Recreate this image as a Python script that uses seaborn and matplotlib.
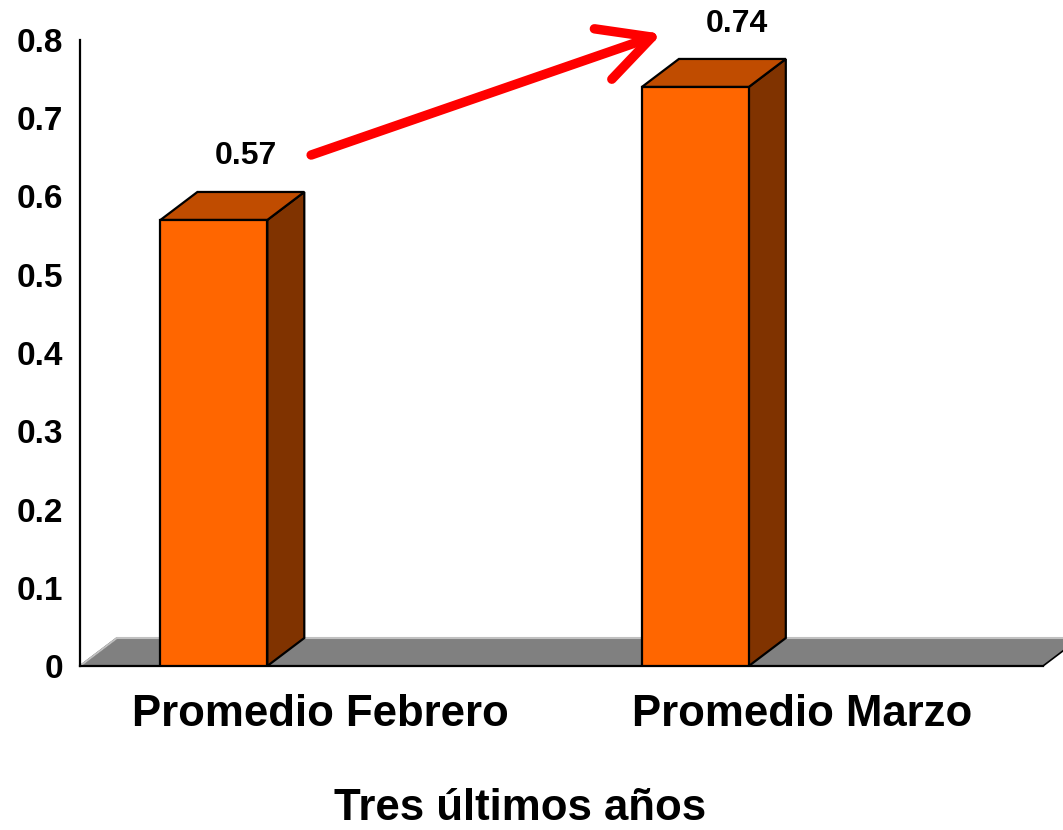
import matplotlib
matplotlib.use("Agg")
import matplotlib.pyplot as plt
import seaborn as sns
import numpy as np
import pandas as pd
from matplotlib.patches import Polygon

# ---- data ----
categories = ["Promedio Febrero", "Promedio Marzo"]
values = [0.57, 0.74]
value_labels = ["0.57", "0.74"]
y_ticks = [0, 0.1, 0.2, 0.3, 0.4, 0.5, 0.6, 0.7, 0.8]
y_tick_labels = ["0", "0.1", "0.2", "0.3", "0.4", "0.5", "0.6", "0.7", "0.8"]
x_title = "Tres últimos años"

# ---- style ----
sns.set_theme(style="white")
plt.rcParams["font.family"] = ["Liberation Sans", "DejaVu Sans"]
plt.rcParams["font.weight"] = "bold"
for k in ["text.color", "axes.labelcolor", "xtick.color", "ytick.color"]:
    plt.rcParams[k] = "black"

FRONT = "#FF6600"
TOP = "#C04C00"
SIDE = "#803300"
FLOOR = "#808080"

W, H, DPI = 1063, 830, 100
fig = plt.figure(figsize=(W / DPI, H / DPI), dpi=DPI)
ax = fig.add_axes([80 / W, (H - 666) / H, 963 / W, 626 / H])

df = pd.DataFrame({"cat": categories, "val": values})
bar_w = 0.222
sns.barplot(data=df, x="cat", y="val", width=bar_w, color=FRONT,
            edgecolor="black", linewidth=1.6, saturation=1, ax=ax, zorder=5)

ax.set_xlim(-0.5, 1.5)
ax.set_ylim(0, 0.8)
fig.canvas.draw()

# depth offset in pixels (3D look)
DX, DY = 37, 28
shift = -0.222  # bars drawn toward the front-left of category slot

to_disp = ax.transData.transform
to_data = ax.transData.inverted().transform


def back(pt):
    d = to_disp(pt) + np.array([DX, DY])
    return to_data(d)


# floor
fl = [(-0.5, 0), (1.5, 0)]
floor_poly = [fl[0], fl[1], back(fl[1]), back(fl[0])]
ax.add_patch(Polygon(floor_poly, closed=True, facecolor=FLOOR,
                     edgecolor="black", linewidth=1.2, zorder=2, clip_on=False))
ax.plot([floor_poly[3][0], floor_poly[2][0]], [floor_poly[3][1], floor_poly[2][1]],
        color="#C0C0C0", lw=1.5, zorder=2.5, clip_on=False)
ax.plot([fl[0][0], floor_poly[3][0]], [0, floor_poly[3][1]],
        color="#C0C0C0", lw=1.5, zorder=2.5, clip_on=False)

label_offsets = [(23, 46), (30, 45)]
for p, lab, off in zip(ax.patches, value_labels, label_offsets):
    p.set_x(p.get_x() + shift)
    x0, x1 = p.get_x(), p.get_x() + p.get_width()
    v = p.get_height()
    top = [(x0, v), (x1, v), back((x1, v)), back((x0, v))]
    side = [(x1, 0), (x1, v), back((x1, v)), back((x1, 0))]
    ax.add_patch(Polygon(side, closed=True, facecolor=SIDE, edgecolor="black",
                         linewidth=1.6, zorder=4, clip_on=False))
    ax.add_patch(Polygon(top, closed=True, facecolor=TOP, edgecolor="black",
                         linewidth=1.6, zorder=4, clip_on=False, joinstyle="miter"))
    ax.annotate(lab, xy=((x0 + x1) / 2, v), xytext=off,
                textcoords="offset points", ha="center", va="center",
                fontsize=23, fontweight="bold", color="black",
                annotation_clip=False, zorder=6)

# arrow
ax.annotate("", xy=(0.708, 0.808), xytext=(-0.02, 0.653),
            xycoords="data", textcoords="data",
            arrowprops=dict(arrowstyle="->,head_length=3.1,head_width=1.6",
                            color="#FF0000", lw=6.8, shrinkA=0, shrinkB=0,
                            capstyle="round", joinstyle="round"),
            annotation_clip=False, zorder=7)

# axes styling
for s in ["top", "right"]:
    ax.spines[s].set_visible(False)
for s in ["left", "bottom"]:
    ax.spines[s].set_color("black")
    ax.spines[s].set_linewidth(1.6)
    ax.spines[s].set_zorder(3)

ax.set_yticks(y_ticks)
ax.set_yticklabels(y_tick_labels, fontsize=24, fontweight="bold")
ax.tick_params(axis="y", direction="out", length=9, width=1.6, color="black", pad=3)

ax.set_xticks([0, 1])
ax.set_xticklabels(categories, fontsize=31.5, fontweight="bold")
ax.set_xticks([-0.5, 0.5, 1.5], minor=True)
ax.tick_params(axis="x", which="major", length=0, pad=20)
ax.tick_params(axis="x", which="minor", direction="out", length=9, width=1.6, color="black")
ax.set_xlabel(x_title, fontsize=31.5, fontweight="bold")
ax.xaxis.set_label_coords((520 - 80) / 963, -(808 - 666) / 626)
ax.xaxis.label.set_va("center")
ax.set_ylabel("")

fig.savefig("out.png", dpi=DPI)
